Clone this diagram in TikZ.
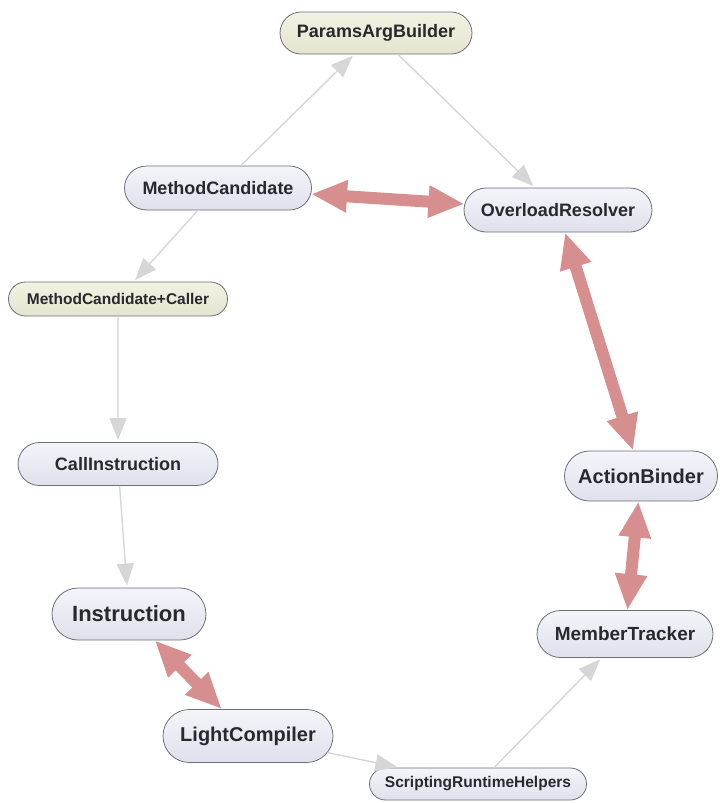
\documentclass[tikz,border=0pt]{standalone}
\usepackage{fontspec}
\setmainfont{Liberation Sans}
\usetikzlibrary{shapes.misc,arrows.meta}
\definecolor{nodefillA}{RGB}{224,224,236}
\definecolor{nodefillB}{RGB}{244,244,250}
\definecolor{yelA}{RGB}{228,228,206}
\definecolor{yelB}{RGB}{242,242,228}
\definecolor{nodeborder}{RGB}{110,110,120}
\definecolor{txtcol}{RGB}{40,40,45}
\definecolor{pinkarrow}{RGB}{214,142,142}
\definecolor{grayarrow}{RGB}{214,214,214}
\tikzset{
  cls/.style={rounded rectangle, draw=nodeborder, line width=0.8pt,
    top color=nodefillB, bottom color=nodefillA, text=txtcol,
    font=\bfseries, inner sep=0pt},
  ylw/.style={cls, top color=yelB, bottom color=yelA},
  fs/.style={font=\fontsize{#1}{#1}\selectfont\bfseries},
  dep/.style={draw=grayarrow, line width=1.4pt,
    -{Triangle[length=22pt,width=17pt,fill=grayarrow]}, shorten >=2pt},
  bidir/.style={draw=pinkarrow, line width=12pt,
    {Triangle[length=36pt,width=30pt,fill=pinkarrow]}-{Triangle[length=36pt,width=30pt,fill=pinkarrow]}},
}
\begin{document}
\begin{tikzpicture}[x=1pt,y=1pt]
\useasboundingbox (0,0) rectangle (723,-803);
\node[ylw, fs=18, minimum width=192pt, minimum height=42pt] (pab) at (376,-33) {ParamsArgBuilder};
\node[cls, fs=18, minimum width=187pt, minimum height=44pt] (mc) at (218,-188) {MethodCandidate};
\node[cls, fs=18, minimum width=188pt, minimum height=44pt] (or) at (558,-210) {OverloadResolver};
\node[ylw, fs=15.5, minimum width=219pt, minimum height=34pt] (mcc) at (118,-299) {MethodCandidate+Caller};
\node[cls, fs=18, minimum width=200pt, minimum height=43pt] (ci) at (118,-464) {CallInstruction};
\node[cls, fs=22, minimum width=154pt, minimum height=52pt] (ins) at (129,-614) {Instruction};
\node[cls, fs=20, minimum width=153pt, minimum height=50pt] (ab) at (641,-476) {ActionBinder};
\node[cls, fs=19, minimum width=176pt, minimum height=47pt] (mt) at (625,-634) {MemberTracker};
\node[cls, fs=20, minimum width=170pt, minimum height=53pt] (lc) at (248,-736) {LightCompiler};
\node[cls, fs=15.5, minimum width=217pt, minimum height=32pt] (srh) at (478,-784) {ScriptingRuntimeHelpers};

\draw[dep] (mc) -- (pab);
\draw[dep] (pab) -- (or);
\draw[dep] (mc) -- (mcc);
\draw[dep] (mcc) -- (ci);
\draw[dep] (ci) -- (ins);
\draw[dep] (lc) -- (srh);
\draw[dep] (srh) -- (mt);

\draw[bidir] (mc) -- (or);
\draw[bidir] (or) -- (ab);
\draw[bidir] (ab) -- (mt);
\draw[bidir] (ins) -- (lc);
\end{tikzpicture}
\end{document}
